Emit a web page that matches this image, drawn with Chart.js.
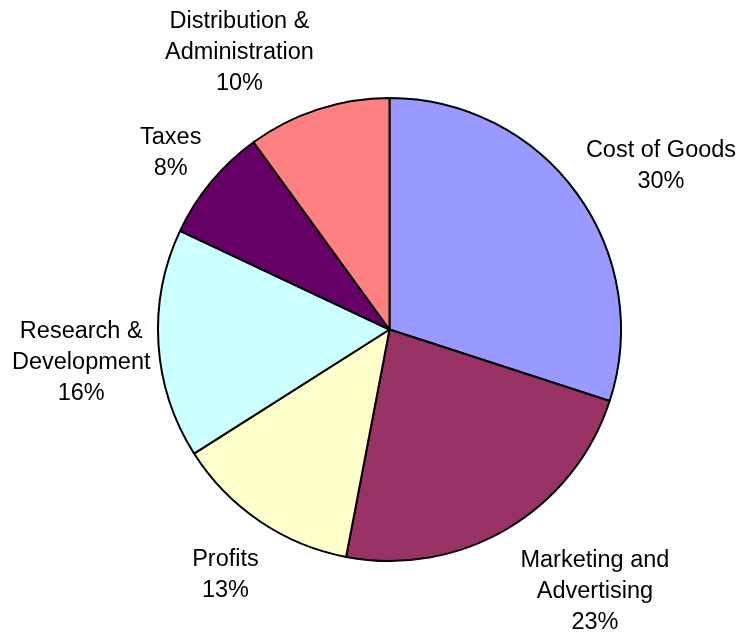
<!DOCTYPE html>
<html>
<head>
<meta charset="utf-8">
<script src="https://cdn.jsdelivr.net/npm/chart.js@4.4.1/dist/chart.umd.min.js"></script>
<style>
  html, body { margin: 0; padding: 0; background: #ffffff; }
  #wrap { width: 743px; height: 639px; position: relative; }
</style>
</head>
<body>
<div id="wrap"><canvas id="c" width="743" height="639"></canvas></div>
<script>
const categories = [
  ["Cost of Goods"],
  ["Marketing and", "Advertising"],
  ["Profits"],
  ["Research &", "Development"],
  ["Taxes"],
  ["Distribution &", "Administration"]
];
const values = [30, 23, 13, 16, 8, 10];
const sliceColors = ["#9999FF", "#993366", "#FFFFCC", "#CCFFFF", "#660066", "#FF8080"];

const FONT_SIZE = 23.5;
const LINE_H = 31;
const FONT = FONT_SIZE + 'px "Liberation Sans", Arial, sans-serif';

const outsideLabels = {
  id: 'outsideLabels',
  afterDatasetsDraw(chart, args, opts) {
    const ctx = chart.ctx;
    const meta = chart.getDatasetMeta(0);
    const data = chart.data.datasets[0].data;
    const total = data.reduce((a, b) => a + b, 0);
    ctx.save();
    ctx.font = FONT;
    ctx.fillStyle = '#000000';
    ctx.textAlign = 'center';
    ctx.textBaseline = 'alphabetic';
    meta.data.forEach((arc, i) => {
      const p = arc.getProps(['x', 'y', 'startAngle', 'endAngle', 'outerRadius'], true);
      const mid = (p.startAngle + p.endAngle) / 2;
      const dx = Math.cos(mid), dy = Math.sin(mid);
      const r = p.outerRadius + opts.gap;
      const ax = p.x + r * dx, ay = p.y + r * dy;
      const lines = categories[i].concat([Math.round(data[i] / total * 100) + '%']);
      const w = Math.max(...lines.map(l => ctx.measureText(l).width));
      const h = lines.length * LINE_H;
      let left, top;
      if (dx > 0.15) left = ax; else if (dx < -0.15) left = ax - w; else left = ax - w / 2;
      if (dy < -0.3) top = ay - h; else if (dy > 0.3) top = ay; else top = ay - h / 2;
      const n = opts.nudge[i] || [0, 0];
      left += n[0]; top += n[1];
      const cx = left + w / 2;
      lines.forEach((l, k) => {
        const midY = top + LINE_H / 2 + k * LINE_H;
        ctx.fillText(l, cx, midY + 0.36 * FONT_SIZE);
      });
    });
    ctx.restore();
  }
};

new Chart(document.getElementById('c'), {
  type: 'pie',
  data: {
    labels: categories.map(c => c.join(' ')),
    datasets: [{
      data: values,
      backgroundColor: sliceColors,
      borderColor: '#000000',
      borderWidth: 2
    }]
  },
  options: {
    responsive: false,
    animation: false,
    layout: { padding: { left: 157, right: 121, top: 97, bottom: 77 } },
    plugins: {
      legend: { display: false },
      tooltip: { enabled: false },
      outsideLabels: {
        gap: 10,
        nudge: [[1, 7], [8, 6], [5, 13], [2, 16], [-2, 6], [-1, -3]]
      }
    }
  },
  plugins: [outsideLabels]
});
</script>
</body>
</html>
